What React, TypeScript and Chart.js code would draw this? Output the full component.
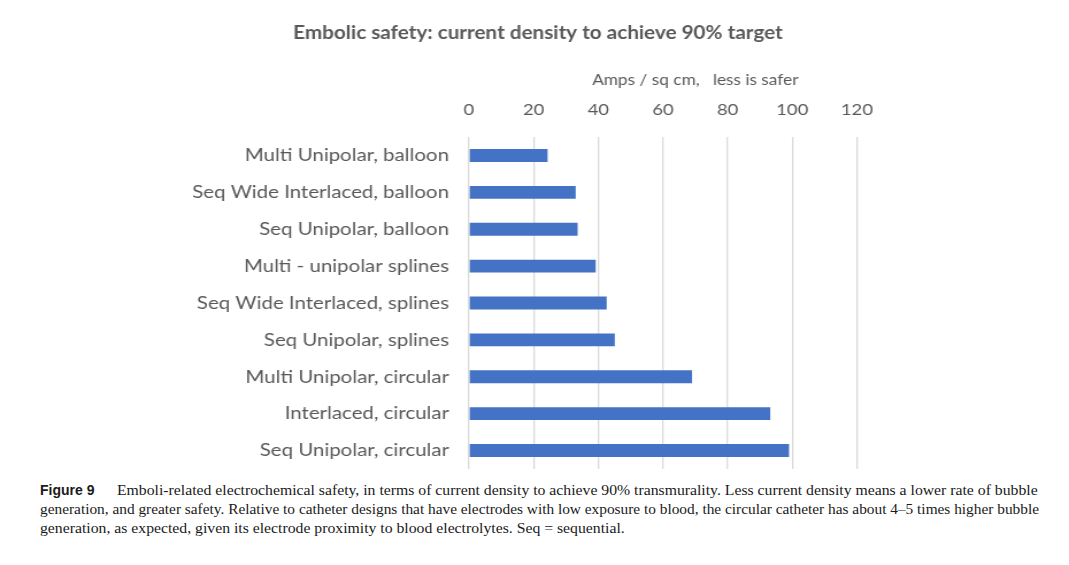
import React, { useEffect, useRef } from "react";
import { Chart, registerables } from "chart.js";

Chart.register(...registerables);

const categories = [
  "Multi Unipolar, balloon",
  "Seq Wide Interlaced, balloon",
  "Seq Unipolar, balloon",
  "Multi - unipolar splines",
  "Seq Wide Interlaced, splines",
  "Seq Unipolar, splines",
  "Multi Unipolar, circular",
  "Interlaced, circular",
  "Seq Unipolar, circular",
];
const values = [24.3, 33.0, 33.6, 39.2, 42.6, 45.1, 69.0, 93.2, 99.0];
const chartTitle = "Embolic safety: current density to achieve 90% target";
const axisTitle = "Amps / sq cm,   less is safer";
const xMin = 0;
const xMax = 120;
const xStep = 20;

const captionLabel = "Figure 9";
const captionLines = [
  "Emboli-related electrochemical safety, in terms of current density to achieve 90% transmurality. Less current density means a lower rate of bubble",
  "generation, and greater safety. Relative to catheter designs that have electrodes with low exposure to blood, the circular catheter has about 4\u20135 times higher bubble",
  "generation, as expected, given its electrode proximity to blood electrolytes. Seq = sequential.",
];

// the reference is horizontally stretched; draw on a narrower canvas and stretch it
const PAGE_W = 1069;
const CANVAS_W = 930;
const CANVAS_H = 475;
const STRETCH = PAGE_W / CANVAS_W;

const axisTitlePlugin = {
  id: "axisTitleOffset",
  afterDraw(chart: any) {
    const xs = chart.scales.x;
    const ctx = chart.ctx;
    ctx.save();
    ctx.font = "15px Lato";
    ctx.fillStyle = "#595959";
    ctx.textAlign = "center";
    ctx.textBaseline = "middle";
    ctx.fillText(axisTitle, xs.getPixelForValue(70), xs.top + 26.4);
    ctx.restore();
  },
};

export default function App() {
  const ref = useRef<HTMLCanvasElement | null>(null);
  useEffect(() => {
    if (!ref.current) return;
    const chart = new Chart(ref.current, {
      type: "bar",
      data: {
        labels: categories,
        datasets: [
          {
            data: values,
            backgroundColor: "#4472C4",
            barPercentage: 0.35 / 0.9,
            categoryPercentage: 0.9,
          },
        ],
      },
      plugins: [axisTitlePlugin],
      options: {
        indexAxis: "y",
        animation: false,
        responsive: false,
        devicePixelRatio: 1,
        layout: { padding: { left: 6, right: 0, top: 0, bottom: 6 } },
        plugins: {
          legend: { display: false },
          tooltip: { enabled: false },
          title: {
            display: true,
            text: chartTitle,
            color: "#595959",
            font: { family: "Lato", size: 18, weight: "bold" },
            padding: { top: 22, bottom: 10 },
          },
        },
        scales: {
          x: {
            position: "top",
            min: xMin,
            max: xMax,
            ticks: {
              stepSize: xStep,
              color: "#595959",
              font: { family: "Lato", size: 16 },
              padding: 18,
            },
            grid: { color: "#d9d9d9", lineWidth: 1.3, drawTicks: false },
            border: { display: false },
            afterFit: (s: any) => {
              s.height = 137 - 53.6;
            },
          },
          y: {
            ticks: {
              color: "#595959",
              font: { family: "Lato", size: 17.8 },
              padding: 17.4,
            },
            grid: { display: false, drawTicks: false },
            border: { display: false },
            afterFit: (s: any) => {
              s.width = 402;
              s.paddingTop = 0;
              s.paddingBottom = 0;
            },
          },
          y2: {
            type: "linear",
            position: "right",
            ticks: { display: false },
            grid: { display: false, drawTicks: false },
            border: { display: false },
            afterFit: (s: any) => {
              s.width = CANVAS_W - 745.5;
              s.paddingTop = 0;
              s.paddingBottom = 0;
            },
          },
        },
      },
    });
    return () => chart.destroy();
  }, []);

  const lineStyle: React.CSSProperties = {
    position: "absolute",
    whiteSpace: "nowrap",
    transform: `scaleX(${STRETCH})`,
    transformOrigin: "left center",
    fontFamily: "'Liberation Serif', 'Times New Roman', serif",
    fontSize: 13.7,
    lineHeight: "19px",
    color: "#1a1a1a",
  };

  return (
    <div style={{ position: "absolute", left: 0, top: 0, width: PAGE_W, height: 565, background: "#fff", overflow: "hidden" }}>
      <canvas
        ref={ref}
        width={CANVAS_W}
        height={CANVAS_H}
        style={{ position: "absolute", left: 0, top: 0, width: PAGE_W, height: CANVAS_H }}
      />
      <div
        style={{
          position: "absolute",
          left: 40,
          top: 481,
          fontFamily: "'Liberation Sans Narrow', 'Liberation Sans', sans-serif",
          fontWeight: "bold",
          fontSize: 14,
          lineHeight: "19px",
          color: "#1a1a1a",
        }}
      >
        {captionLabel}
      </div>
      <div style={{ ...lineStyle, left: 117, top: 481 }}>{captionLines[0]}</div>
      <div style={{ ...lineStyle, left: 40, top: 500, transform: "scaleX(1.121)" }}>{captionLines[1]}</div>
      <div style={{ ...lineStyle, left: 40, top: 519 }}>{captionLines[2]}</div>
    </div>
  );
}
